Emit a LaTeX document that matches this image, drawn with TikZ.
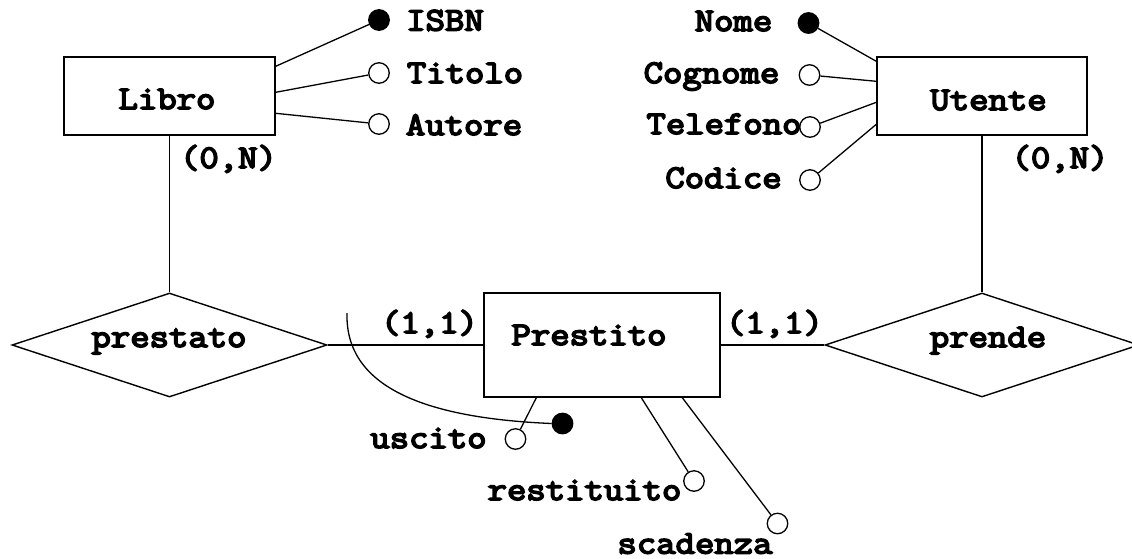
\documentclass[tikz,border=0pt]{standalone}
\usepackage{fontspec}
\usetikzlibrary{shapes.geometric}
\newfontfamily\ermono{Latin Modern Mono}[FakeBold=5, FakeStretch=1.14]
\newcommand\erfont{\ermono\fontsize{33}{36}\selectfont}
\begin{document}
\begin{tikzpicture}[x=1pt,y=-1pt,
  ent/.style={draw, line width=1.4pt, minimum width=211pt, minimum height=78pt, inner sep=0pt},
  rel/.style={draw, diamond, line width=1.4pt, minimum width=315pt, minimum height=104pt, inner sep=0pt},
  att/.style={circle, draw, line width=1.3pt, fill=white, minimum size=20.5pt, inner sep=0pt},
  keyatt/.style={att, fill=black},
  txt/.style={inner sep=0pt, anchor=base, font=\erfont},
  conn/.style={line width=1.3pt}]
\useasboundingbox (0,0) rectangle (1132,558);

% entities
\node[ent] (libro) at (169.5,96) {};
\node[ent, minimum width=210pt] (utente) at (982,96) {};
\node[ent, minimum width=236pt, minimum height=104pt] (prestito) at (602,345) {};
\node[txt] (libroT) at (167,109) {Libro};
\node[txt] (utenteT) at (988.5,110) {Utente};
\node[txt] (prestitoT) at (589,345) {Prestito};

% relationships
\node[rel] (prestato) at (169.5,345) {};
\node[rel, minimum width=314pt] (prende) at (982,345) {};
\node[txt] (prestatoT) at (169,347) {prestato};
\node[txt] (prendeT) at (988,347) {prende};

% links and cardinalities
\draw[conn] (libro.south) -- (prestato.north);
\draw[conn] (utente.south) -- (prende.north);
\draw[conn] (prestato.east) -- (prestito.west);
\draw[conn] (prestito.east) -- (prende.west);
\node[txt] (cardL) at (228.5,168) {(0,N)};
\node[txt] (cardU) at (1060,168) {(0,N)};
\node[txt] (cardPL) at (429.5,333) {(1,1)};
\node[txt] (cardPR) at (774.5,333) {(1,1)};

% attributes of Libro
\node[keyatt] (isbn) at (379,20) {};
\node[att] (titolo) at (379,73) {};
\node[att] (autore) at (379,124) {};
\draw[conn] (isbn) -- ([yshift=-10pt]libro.north east);
\draw[conn] (titolo) -- ([yshift=-36pt]libro.north east);
\draw[conn] (autore) -- ([yshift=-57pt]libro.north east);
\node[txt] (isbnT) at (445,30.5) {ISBN};
\node[txt] (titoloT) at (465,83) {Titolo};
\node[txt] (autoreT) at (464,135) {Autore};

% attributes of Utente
\node[keyatt] (nome) at (808.5,23) {};
\node[att] (cognome) at (809.5,75) {};
\node[att] (telefono) at (810,127) {};
\node[att] (codice) at (810,180) {};
\draw[conn] (nome) -- ([yshift=-5pt]utente.north west);
\draw[conn] (cognome) -- ([yshift=-25pt]utente.north west);
\draw[conn] (telefono) -- ([yshift=-46pt]utente.north west);
\draw[conn] (codice) -- ([yshift=-68pt]utente.north west);
\node[txt] (nomeT) at (733.5,31) {Nome};
\node[txt] (cognomeT) at (711.5,83) {Cognome};
\node[txt] (telefonoT) at (724,134) {Telefono};
\node[txt] (codiceT) at (723.5,188) {Codice};

% attributes of Prestito and its external identifier
\node[att] (uscito) at (515.5,439) {};
\node[keyatt] (ident) at (562.5,423.5) {};
\node[att] (restituito) at (694,481) {};
\node[att] (scadenza) at (777.5,523.5) {};
\draw[conn] (uscito) -- ([xshift=53pt]prestito.south west);
\draw[conn] (restituito) -- ([xshift=158pt]prestito.south west);
\draw[conn] (scadenza) -- ([xshift=199pt]prestito.south west);
\coordinate (identTop) at (347,313);
\draw[conn] (identTop) .. controls (345,385) and (420,418) .. (ident.west);
\node[txt] (uscitoT) at (428.5,448) {uscito};
\node[txt] (restituitoT) at (584.5,500) {restituito};
\node[txt] (scadenzaT) at (695,553.5) {scadenza};
\end{tikzpicture}
\end{document}
